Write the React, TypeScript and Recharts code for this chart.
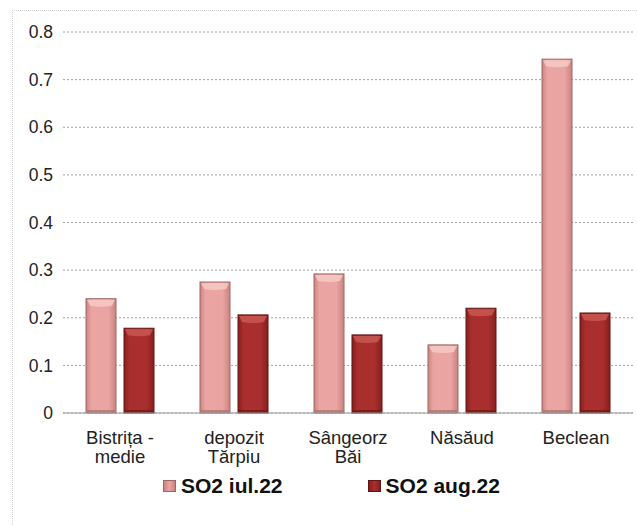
import { BarChart, Bar, XAxis, YAxis, CartesianGrid, Legend } from 'recharts';

const categories = ['Bistrița -\nmedie', 'depozit\nTărpiu', 'Sângeorz\nBăi', 'Năsăud', 'Beclean'];
const so2Jul = [0.24, 0.275, 0.292, 0.143, 0.743];
const so2Aug = [0.178, 0.206, 0.164, 0.22, 0.21];
const yTicks = [0, 0.1, 0.2, 0.3, 0.4, 0.5, 0.6, 0.7, 0.8];
const seriesNames = ['SO2 iul.22', 'SO2 aug.22'];

const data = categories.map((name, i) => ({ name, jul: so2Jul[i], aug: so2Aug[i] }));

const FONT = '"Liberation Sans", Arial, sans-serif';

const palettes = {
  jul: { id: 'gJul', edge: '#a06664', dark: '#c98482', mid: '#eaa5a2', cap: '#f6cac6', base: '#b07472' },
  aug: { id: 'gAug', edge: '#641212', dark: '#861f1e', mid: '#a82f2d', cap: '#c95852', base: '#701918' },
};

type Pal = typeof palettes.jul;

// beveled bar, geometry comes from recharts
const bevel = (p: Pal) => (props: any) => {
  const { x, y, width, height } = props;
  if (!height || height <= 0) return null;
  const c = Math.min(7, height / 3);
  return (
    <g>
      <rect x={x} y={y} width={width} height={height} fill={`url(#${p.id})`} stroke={p.edge} strokeWidth={1} />
      <path
        d={`M${x + 1},${y + 1} L${x + width - 1},${y + 1} L${x + width - 4},${y + c} Q${x + width / 2},${y + c + 2} ${x + 4},${y + c} Z`}
        fill={p.cap}
        opacity={0.85}
      />
      <rect x={x + 1} y={y + height - 3} width={width - 2} height={2.5} fill={p.base} opacity={0.8} />
    </g>
  );
};

const CatTick = (props: any) => {
  const { x, y, payload } = props;
  const lines = String(payload.value).split('\n');
  return (
    <text x={x} y={y} textAnchor="middle" fill="#222" fontSize={18.5} fontFamily={FONT}>
      {lines.map((l, i) => (
        <tspan key={i} x={x} dy={i === 0 ? 31 : 19}>
          {l}
        </tspan>
      ))}
    </text>
  );
};

const LegendBox = () => {
  const items = [palettes.jul, palettes.aug];
  return (
    <div style={{ height: 30, display: 'flex', alignItems: 'center', paddingLeft: 163, gap: 85 }}>
      {items.map((p, i) => (
        <div key={i} style={{ display: 'flex', alignItems: 'center' }}>
          <div
            style={{
              width: 13,
              height: 12,
              marginRight: 5,
              background: `linear-gradient(90deg, ${p.dark}, ${p.mid} 50%, ${p.dark})`,
              border: `1px solid ${p.edge}`,
              boxSizing: 'border-box',
            }}
          />
          <span style={{ fontFamily: FONT, fontWeight: 'bold', fontSize: 21, color: '#111' }}>{seriesNames[i]}</span>
        </div>
      ))}
    </div>
  );
};

export default function App() {
  return (
    <div style={{ position: 'absolute', left: 0, top: 0, width: 637, height: 526, background: '#fff', overflow: 'hidden' }}>
      <div
        style={{
          position: 'absolute',
          left: 12,
          top: 10,
          width: 640,
          height: 540,
          borderLeft: '1px dotted #cfcfcf',
          borderTop: '1px dotted #cfcfcf',
        }}
      />
      <BarChart
        width={637}
        height={526}
        data={data}
        margin={{ top: 32, right: 4, left: 8, bottom: 25 }}
        barGap={8}
      >
        <defs>
          {[palettes.jul, palettes.aug].map((p) => (
            <linearGradient key={p.id} id={p.id} x1="0" y1="0" x2="1" y2="0">
              <stop offset="0%" stopColor={p.dark} />
              <stop offset="18%" stopColor={p.mid} />
              <stop offset="75%" stopColor={p.mid} />
              <stop offset="100%" stopColor={p.dark} />
            </linearGradient>
          ))}
        </defs>
        <CartesianGrid vertical={false} stroke="#a0a0a0" strokeDasharray="2 2" />
        <XAxis
          dataKey="name"
          height={58}
          axisLine={{ stroke: '#9a9a9a' }}
          tickLine={false}
          tickSize={0}
          tickMargin={0}
          interval={0}
          tick={<CatTick />}
        />
        <YAxis
          domain={[0, 0.8]}
          ticks={yTicks}
          width={55}
          axisLine={false}
          tickLine={false}
          tickMargin={4}
          tick={{ fill: '#222', fontSize: 17.5, fontFamily: FONT }}
        />
        <Legend
          verticalAlign="bottom"
          height={30}
          content={<LegendBox />}
          wrapperStyle={{ left: 0, width: 637 }}
        />
        <Bar dataKey="jul" name={seriesNames[0]} barSize={30} shape={bevel(palettes.jul)} isAnimationActive={false} />
        <Bar dataKey="aug" name={seriesNames[1]} barSize={30} shape={bevel(palettes.aug)} isAnimationActive={false} />
      </BarChart>
    </div>
  );
}
